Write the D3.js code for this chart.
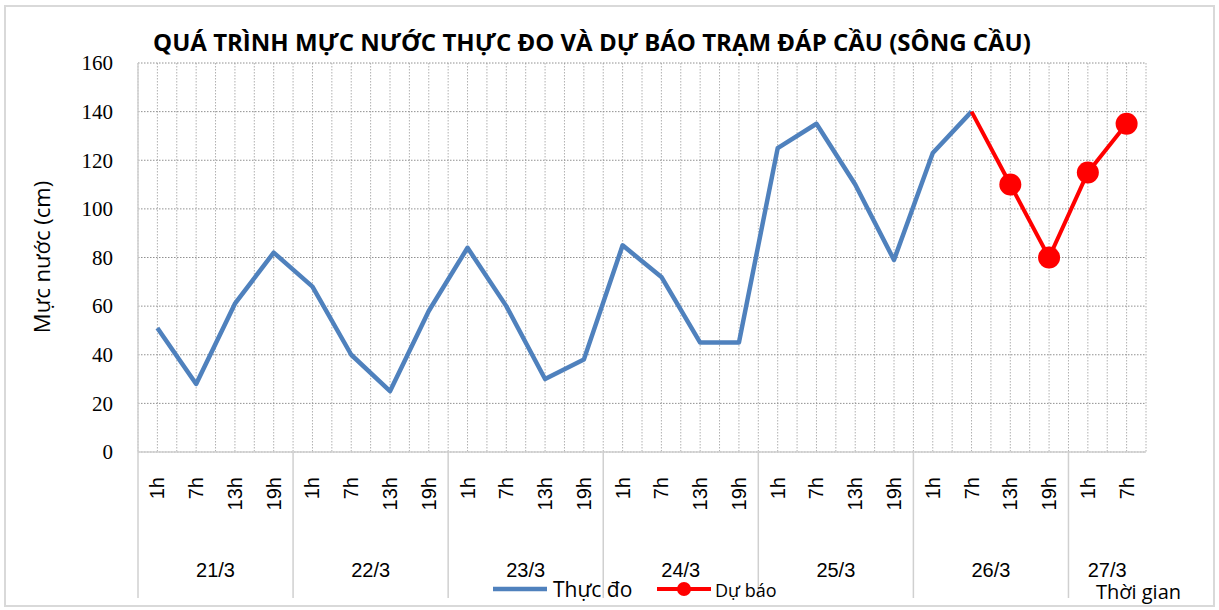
<!DOCTYPE html>
<html>
<head>
<meta charset="utf-8">
<script src="https://cdn.jsdelivr.net/npm/d3@7"></script>
<style>
  body { margin: 0; background: #fff; }
  svg text { fill: #000; }
</style>
</head>
<body>
<div id="chart"></div>
<script>
// data
var days = ["21/3", "22/3", "23/3", "24/3", "25/3", "26/3", "27/3"];
var hours = ["1h", "7h", "13h", "19h"];
var hoursPerDay = [4, 4, 4, 4, 4, 4, 2];
var thucDo = [51, 28, 61, 82, 68, 40, 25, 58, 84, 60, 30, 38, 85, 72, 45, 45, 125, 135, 110, 79, 123, 140];
var duBao = [140, 110, 80, 115, 135];
var duBaoStart = 21; // index of 26/3 7h
var yTicks = [0, 20, 40, 60, 80, 100, 120, 140, 160];

// build category list
var cats = [];
days.forEach(function (d, i) {
  for (var k = 0; k < hoursPerDay[i]; k++) cats.push({ day: d, hour: hours[k], key: d + "-" + hours[k] });
});

var W = 1219, H = 610;
var m = { left: 138, right: 1146, top: 63, bottom: 452 };
var sans = "'Open Sans', 'Noto Sans', sans-serif";
var narrow = "'Liberation Sans', 'Noto Sans', sans-serif";

var svg = d3.select("#chart").append("svg").attr("width", W).attr("height", H);

// outer frame
svg.append("rect").attr("x", 5).attr("y", 6).attr("width", 1209).attr("height", 600)
  .attr("fill", "#fff").attr("stroke", "#d9d9d9").attr("stroke-width", 2);

var x = d3.scaleBand().domain(cats.map(function (c) { return c.key; })).range([m.left, m.right]).padding(0);
var y = d3.scaleLinear().domain([0, 160]).range([m.bottom, m.top]);
var bw = x.bandwidth();

// vertical dotted grid, at every category centre and boundary
var g = svg.append("g");
for (var i = 0; i <= cats.length * 2; i++) {
  var gx = m.left + i * bw / 2;
  g.append("line").attr("x1", gx).attr("x2", gx).attr("y1", m.top).attr("y2", m.bottom)
    .attr("stroke", "#b0b0b0").attr("stroke-width", 1).attr("stroke-dasharray", "1.5,1.5");
}
// horizontal dotted grid
yTicks.forEach(function (t) {
  g.append("line").attr("x1", m.left).attr("x2", m.right).attr("y1", y(t)).attr("y2", y(t))
    .attr("stroke", "#909090").attr("stroke-width", 1).attr("stroke-dasharray", "1.5,1.5");
});

// axis lines
svg.append("line").attr("x1", m.left).attr("x2", m.left).attr("y1", m.top).attr("y2", 598)
  .attr("stroke", "#d0d0d0").attr("stroke-width", 1.5);
svg.append("line").attr("x1", m.left).attr("x2", m.right).attr("y1", m.bottom).attr("y2", m.bottom)
  .attr("stroke", "#d0d0d0").attr("stroke-width", 1.5);

// y axis labels
svg.append("g").selectAll("text").data(yTicks).enter().append("text")
  .attr("x", 113).attr("y", function (d) { return y(d); }).attr("dy", "0.35em")
  .attr("text-anchor", "end")
  .style("font-family", "'Liberation Serif', 'DejaVu Serif', serif").style("font-size", "21px")
  .text(function (d) { return d; });

svg.append("text")
  .attr("transform", "translate(50,257) rotate(-90)")
  .attr("text-anchor", "middle")
  .style("font-family", sans).style("font-size", "22px")
  .text("Mực nước (cm)");

// hour labels, rotated
svg.append("g").selectAll("text").data(cats).enter().append("text")
  .attr("transform", function (d) { return "translate(" + (x(d.key) + bw / 2) + ",477) rotate(-90)"; })
  .attr("text-anchor", "end").attr("dy", "0.35em")
  .style("font-family", narrow).style("font-size", "20px")
  .text(function (d) { return d.hour; });

// day groups
var pos = 0;
days.forEach(function (d, i) {
  var x0 = m.left + pos * bw;
  var x1 = x0 + hoursPerDay[i] * bw;
  if (i < days.length - 1) {
    svg.append("line").attr("x1", x1).attr("x2", x1).attr("y1", m.bottom).attr("y2", 598)
      .attr("stroke", "#d0d0d0").attr("stroke-width", 1.5);
  }
  svg.append("text").attr("x", (x0 + x1) / 2).attr("y", 577).attr("text-anchor", "middle")
    .style("font-family", narrow).style("font-size", "20px")
    .text(d);
  pos += hoursPerDay[i];
});

// series
var line = d3.line()
  .x(function (d) { return x(cats[d.i].key) + bw / 2; })
  .y(function (d) { return y(d.v); });

var obs = thucDo.map(function (v, i) { return { i: i, v: v }; });
var fc = duBao.map(function (v, i) { return { i: duBaoStart + i, v: v }; });

svg.append("path").datum(obs).attr("d", line).attr("fill", "none")
  .attr("stroke", "#4f81bd").attr("stroke-width", 4.5).attr("stroke-linejoin", "round");
svg.append("path").datum(fc).attr("d", line).attr("fill", "none")
  .attr("stroke", "#ff0000").attr("stroke-width", 4).attr("stroke-linejoin", "round");
svg.append("g").selectAll("circle").data(fc.slice(1)).enter().append("circle")
  .attr("cx", function (d) { return x(cats[d.i].key) + bw / 2; })
  .attr("cy", function (d) { return y(d.v); })
  .attr("r", 11).attr("fill", "#ff0000");

// title
svg.append("text").attr("x", 592).attr("y", 51).attr("text-anchor", "middle")
  .style("font-family", sans).style("font-size", "24px")
  .style("font-weight", "bold")
  .text("QUÁ TRÌNH MỰC NƯỚC THỰC ĐO VÀ DỰ BÁO TRẠM ĐÁP CẦU (SÔNG CẦU)");

// legend
var lg = svg.append("g");
lg.append("line").attr("x1", 493).attr("x2", 547).attr("y1", 589).attr("y2", 589)
  .attr("stroke", "#4f81bd").attr("stroke-width", 4.5);
lg.append("text").attr("x", 553).attr("y", 597)
  .style("font-family", sans).style("font-size", "21px")
  .text("Thực đo");
lg.append("line").attr("x1", 657).attr("x2", 711).attr("y1", 589).attr("y2", 589)
  .attr("stroke", "#ff0000").attr("stroke-width", 4);
lg.append("circle").attr("cx", 684).attr("cy", 589).attr("r", 7).attr("fill", "#ff0000");
lg.append("text").attr("x", 715).attr("y", 597)
  .style("font-family", sans).style("font-size", "18px")
  .text("Dự báo");

svg.append("text").attr("x", 1096).attr("y", 599)
  .style("font-family", sans).style("font-size", "20px")
  .text("Thời gian");
</script>
</body>
</html>
